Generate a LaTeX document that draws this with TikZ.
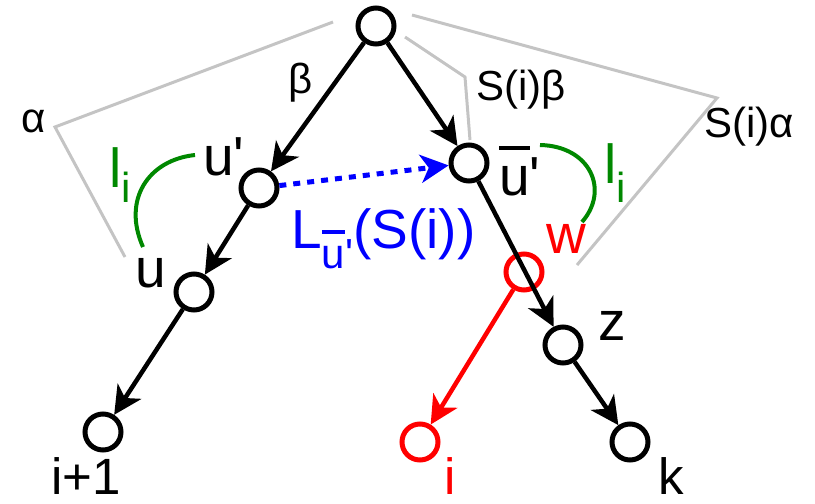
\documentclass[tikz,border=0pt]{standalone}
\usepackage{fontspec}
\setmainfont{Liberation Sans}
\usetikzlibrary{arrows.meta}
\definecolor{lgray}{RGB}{196,196,196}
\definecolor{dgreen}{RGB}{0,136,0}
\newcommand{\lblbig}{\fontsize{55pt}{60pt}\selectfont}
\newcommand{\lblbottom}{\fontsize{51pt}{56pt}\selectfont}
\newcommand{\lblsmall}{\fontsize{42pt}{46pt}\selectfont}
\newcommand{\lblsub}{\fontsize{42pt}{46pt}\selectfont}
\newcommand{\prm}{\textquotesingle}
\newcommand{\ubarprime}{{\setbox0\hbox{u}\rlap{\rule[0.82em]{\wd0}{0.075em}}u\prm}}
\begin{document}
\begin{tikzpicture}[x=1pt,y=-1pt,
  vtx/.style={circle,draw=black,fill=white,line width=5pt,minimum size=36pt,inner sep=0pt},
  rvtx/.style={circle,draw=red,line width=5pt,minimum size=36pt,inner sep=0pt},
  tipped/.style={-{Stealth[length=28pt,width=28pt,inset=8pt]}},
  edgeb/.style={tipped,line width=4.5pt,draw=black},
  edger/.style={tipped,line width=4.5pt,draw=red},
  edgeblue/.style={tipped,line width=5pt,draw=blue,dash pattern=on 7pt off 7pt},
  lab/.style={anchor=base west,inner sep=0pt,font=\lblbig},
  blab/.style={anchor=base west,inner sep=0pt,font=\lblbottom},
  slab/.style={anchor=base west,inner sep=0pt,font=\lblsmall},
  guide/.style={draw=lgray,line width=3pt,line join=miter},
  arcg/.style={draw=dgreen,line width=4pt}
]
\useasboundingbox (0,0) rectangle (815,504);

% guide coordinates
\coordinate (g1) at (333,22);
\coordinate (ga) at (55,127);
\coordinate (g2) at (125,257);
\coordinate (g3) at (412,15);
\coordinate (gsa) at (717,98);
\coordinate (g4) at (577,265);
\coordinate (g5) at (405,37);
\coordinate (gsb) at (465,77);
\coordinate (g6) at (470,140);
\draw[guide] (g1) -- (ga) -- (g2);
\draw[guide] (g3) -- (gsa) -- (g4);
\draw[guide] (g5) -- (gsb) -- (g6);

% green arcs
\coordinate (la1) at (195,155);
\coordinate (la2) at (143,247);
\coordinate (ra1) at (540,145);
\coordinate (ra2) at (582,222);
\draw[arcg] (la1) .. controls (148,160) and (122,200) .. (la2);
\draw[arcg] (ra1) .. controls (590,146) and (610,190) .. (ra2);

% vertices
\node[vtx] (R) at (376,26) {};
\node[vtx] (A) at (259,188) {};
\node[vtx] (B) at (194,292) {};
\node[vtx] (C) at (103,432) {};
\node[vtx] (D) at (469,163) {};
\node[rvtx] (W) at (524,272) {};
\node[vtx] (Z) at (563,345) {};
\node[vtx] (K) at (630,442) {};
\node[rvtx,fill=white] (I) at (420,442) {};

% edges
\draw[edgeb] (R) -- (A);
\draw[edgeb] (A) -- (B);
\draw[edgeb] (B) -- (C);
\draw[edgeb] (R) -- (D);
\draw[edgeb] (D) -- (Z);
\draw[edgeb] (Z) -- (K);
\draw[edger] (W) -- (I);
\draw[edgeblue] (A) -- (D);

% labels
\node[slab] (lbeta) at (288,93) {β};
\node[slab] (lalpha) at (21,132) {α};
\node[slab] (lsb) at (476,100) {S(i)β};
\node[slab] (lsa) at (704,137) {S(i)α};
\node[lab] (lA) at (203,175) {u\prm};
\node[lab] (lB) at (135,287) {u};
\node[blab] (lC) at (51,494) {i+1};
\node[lab] (lD) at (499,195) {\ubarprime};
\node[lab,text=red] (lW) at (546,253) {w};
\node[lab] (lZ) at (598,340) {z};
\node[blab] (lK) at (658,494) {k};
\node[blab,text=red] (lI) at (444,494) {i};
\node[lab,text=blue] (lL) at (291,248) {L\raisebox{-20pt}{\lblsub\ubarprime}(S(i))};
\node[lab,text=dgreen] (lli1) at (109,187) {l\raisebox{-15pt}{\lblsub i}};
\node[lab,text=dgreen] (lli2) at (604,183) {l\raisebox{-19pt}{\lblsub i}};
\end{tikzpicture}
\end{document}
